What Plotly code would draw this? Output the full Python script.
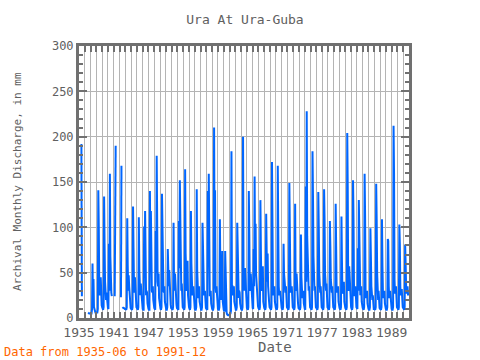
import plotly.graph_objects as go

N = None
# Monthly discharge (mm), Jan..Dec per row
q_1935_1939 = [
    N, N, N, N, N, 192, 24, N, N, N, N, N,
    N, N, N, N, N, N, N, 6, 5, 5, 5, 5,
    5, 5, 5, 10, 60, 20, 43, 12, 9, 7, 6, 6,
    6, 6, 6, 10, 141, 101, 35, 25, 30, 45, 20, 14,
    12, 10, 9, 12, 134, 82, 40, 24, 20, 28, 18, 13,
]
q_1940_1949 = [
    11, 10, 82, 30, 159, 68, 35, 28, 24, N, N, N,
    N, N, 24, 115, 190, N, N, N, N, N, N, N,
    N, N, N, 23, 168, N, 12, 11, 11, 11, 10, 10,
    10, 9, 9, 12, 110, 58, 30, 47, 35, 25, 14, 11,
    10, 9, 9, 12, 123, 77, 35, 28, 45, 30, 17, 12,
    11, 10, 9, 12, 111, 53, 30, 25, 38, 30, 18, 12,
    10, 9, 9, 101, 45, 118, 38, 25, 30, 28, 16, 11,
    10, 9, 9, 140, 60, 118, 53, 30, 28, 35, 20, 13,
    11, 10, 9, 96, 50, 179, 53, 40, 35, 49, 22, 14,
    11, 10, 9, 12, 137, 79, 49, 30, 28, 35, 18, 12,
]
q_1950_1959 = [
    10, 9, 9, 12, 76, 49, 35, 53, 30, 25, 15, 11,
    10, 9, 9, 12, 105, 38, 30, 49, 30, 25, 15, 11,
    10, 9, 9, 107, 55, 152, 90, 35, 30, 38, 18, 12,
    11, 10, 9, 12, 164, 71, 42, 30, 35, 63, 25, 14,
    12, 10, 9, 12, 118, 60, 42, 25, 30, 35, 18, 12,
    10, 9, 9, 12, 142, 53, 30, 22, 25, 35, 18, 12,
    10, 9, 9, 12, 105, 86, 38, 25, 28, 30, 16, 11,
    10, 9, 9, 140, 60, 159, 45, 25, 25, 30, 16, 11,
    10, 9, 9, 12, 210, 90, 141, 35, 28, 35, 18, 12,
    10, 9, 9, 12, 109, 53, 30, 20, 40, 74, 18, 11,
]
q_1960_1969 = [
    9, 8, 8, 74, 30, 12, 6, 4, 3, 3, 3, 4,
    4, 4, 5, 8, 184, 35, 35, 25, 30, 35, 18, 12,
    10, 9, 9, 12, 105, 57, 27, 22, 30, 28, 16, 11,
    10, 9, 9, 12, 200, 55, 38, 30, 55, 42, 20, 13,
    11, 10, 9, 12, 140, 92, 35, 30, 49, 35, 20, 13,
    11, 10, 76, 35, 156, 60, 104, 49, 35, 40, 20, 13,
    11, 10, 9, 12, 130, 75, 36, 30, 35, 57, 18, 12,
    11, 10, 9, 12, 115, 74, 40, 71, 35, 30, 18, 12,
    11, 10, 9, 12, 172, 106, 33, 25, 30, 35, 18, 12,
    11, 10, 9, 12, 168, 99, 35, 25, 28, 30, 17, 12,
]
q_1970_1979 = [
    11, 10, 9, 12, 82, 49, 42, 30, 28, 35, 18, 12,
    11, 10, 9, 12, 149, 97, 45, 28, 30, 35, 18, 12,
    11, 10, 9, 12, 126, 36, 30, 49, 30, 28, 16, 11,
    10, 9, 9, 12, 92, 45, 30, 22, 28, 30, 16, 11,
    10, 9, 145, 40, 228, 90, 57, 35, 30, 35, 18, 12,
    11, 10, 9, 12, 184, 134, 68, 35, 30, 35, 18, 12,
    11, 10, 9, 12, 139, 100, 49, 30, 28, 35, 18, 12,
    11, 10, 9, 12, 142, 108, 49, 35, 30, 38, 18, 12,
    11, 10, 9, 12, 107, 79, 42, 30, 28, 35, 18, 12,
    11, 10, 9, 12, 126, 79, 31, 28, 30, 35, 18, 12,
]
q_1980_1991 = [
    11, 10, 9, 12, 112, 64, 27, 28, 35, 40, 18, 12,
    11, 10, 9, 12, 204, 145, 35, 30, 57, 40, 20, 13,
    12, 10, 9, 12, 152, 108, 35, 24, 28, 35, 18, 12,
    11, 10, 77, 30, 130, 57, 27, 25, 30, 35, 18, 12,
    11, 10, 9, 12, 159, 112, 27, 22, 25, 30, 16, 11,
    10, 9, 9, 12, 99, 68, 35, 25, 20, 25, 14, 10,
    10, 9, 9, 12, 148, 108, 49, 25, 20, 30, 16, 11,
    10, 9, 9, 12, 109, 57, 27, 22, 25, 30, 16, 11,
    10, 9, 9, 12, 87, 85, 35, 22, 25, 30, 16, 11,
    10, 9, 9, 12, 212, 160, 42, 27, 30, 35, 18, 12,
    11, 10, 9, 12, 103, 82, 35, 25, 27, 32, 17, 12,
    11, 10, 9, 12, 81, 61, 35, 27, 30, 35, 25, 28,
]

values = q_1935_1939 + q_1940_1949 + q_1950_1959 + q_1960_1969 + q_1970_1979 + q_1980_1991
first_year = 1935
x = [first_year + i // 12 + (i % 12) / 12 for i in range(len(values))]

title_text = "Ura At Ura-Guba"
ytitle_text = "Archival Monthly Discharge, in mm"
xtitle_text = "Date"
footer_text = "Data from 1935-06 to 1991-12"

FONT = "DejaVu Sans Mono"
GRAY = "#707070"
TXT = "#606060"
GRID = "#b4b4b4"

PL, PR, PT, PB = 79, 409, 46, 318
PW, PH = PR - PL, PB - PT

fig = go.Figure()
fig.add_trace(go.Scatter(x=x, y=values, mode="lines",
                         line=dict(color="#0066ff", width=2),
                         connectgaps=False, showlegend=False))

fig.update_layout(
    width=480, height=360,
    margin=dict(l=PL, r=480 - PR, t=PT, b=360 - PB),
    paper_bgcolor="white", plot_bgcolor="white",
    font=dict(family=FONT, color=TXT, size=12),
    title=dict(text=title_text, x=245 / 480, xref="container", xanchor="center",
               y=1 - 19 / 360, yref="container", yanchor="middle",
               font=dict(family=FONT, size=13, color=TXT)),
)
fig.update_xaxes(
    range=[1935, 1992], tickmode="linear", tick0=1935, dtick=6,
    ticks="inside", ticklen=6, tickwidth=2, tickcolor=GRAY,
    showline=True, linewidth=3, linecolor=GRAY, mirror="allticks",
    showgrid=True, gridcolor=GRID, gridwidth=1, zeroline=False,
    tickfont=dict(family=FONT, size=13, color=TXT),
    minor=dict(tick0=1935, dtick=1, ticks="inside", ticklen=6, tickwidth=2,
               tickcolor=GRAY, showgrid=True, gridcolor=GRID, gridwidth=1),
)
fig.update_yaxes(
    range=[0, 300], tickmode="linear", tick0=0, dtick=50,
    ticks="inside", ticklen=8, tickwidth=2, tickcolor=GRAY,
    showline=True, linewidth=3, linecolor=GRAY, mirror="allticks",
    showgrid=True, gridcolor=GRID, gridwidth=1, zeroline=False,
    tickfont=dict(family=FONT, size=12, color=TXT),
    minor=dict(dtick=10, ticks="inside", ticklen=4, tickwidth=2,
               tickcolor=GRAY, showgrid=False),
)
fig.add_annotation(text=xtitle_text, xref="paper", yref="paper",
                   x=(275 - PL) / PW, y=-(347 - PB) / PH, xanchor="center", yanchor="middle",
                   showarrow=False, font=dict(family=FONT, size=14, color=TXT))
fig.add_annotation(text=ytitle_text, xref="paper", yref="paper",
                   x=-(PL - 17) / PW, y=(PB - 182) / PH, xanchor="center", yanchor="middle",
                   textangle=-90, showarrow=False, font=dict(family=FONT, size=11, color=TXT))
fig.add_annotation(text=footer_text, xref="paper", yref="paper",
                   x=-(PL - 2) / PW, y=-(352 - PB) / PH, xanchor="left", yanchor="middle",
                   showarrow=False, font=dict(family=FONT, size=12, color="#ff6600"))

# remove the default 8px page margin so the figure sits at the window's top-left corner
fig.write_html("out.html", config={"displayModeBar": False},
               post_script="document.body.style.margin='0px';")
